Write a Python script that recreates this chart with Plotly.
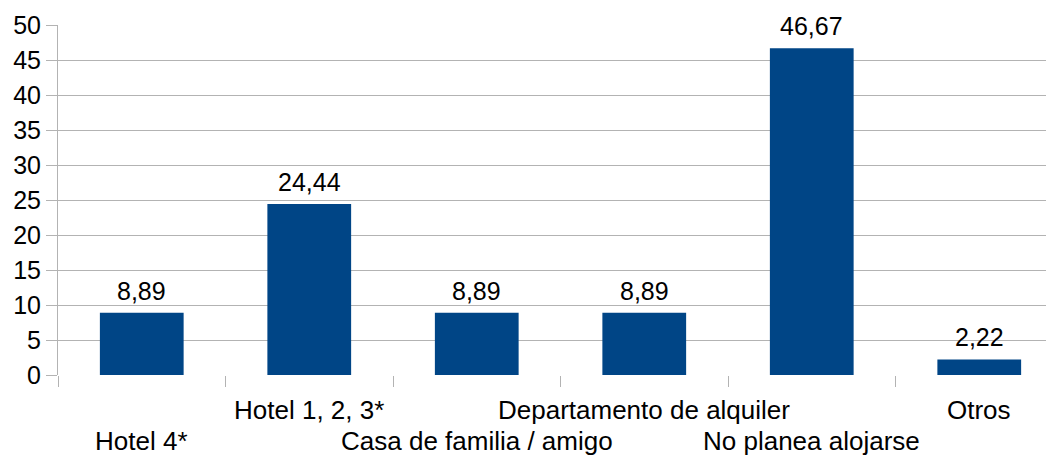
import plotly.graph_objects as go

categories = ["Hotel 4*", "Hotel 1, 2, 3*", "Casa de familia / amigo",
              "Departamento de alquiler", "No planea alojarse", "Otros"]
values = [8.89, 24.44, 8.89, 8.89, 46.67, 2.22]
value_labels = ["8,89", "24,44", "8,89", "8,89", "46,67", "2,22"]
y_ticks = [0, 5, 10, 15, 20, 25, 30, 35, 40, 45, 50]

FONT = "Liberation Sans, Arial, sans-serif"
GRID = "#b3b3b3"

fig = go.Figure()
fig.add_trace(go.Bar(x=list(range(len(categories))), y=values,
                     marker=dict(color="#004586", line=dict(width=0)),
                     width=0.5, hoverinfo="skip"))

annotations = []
for i, (v, lab) in enumerate(zip(values, value_labels)):
    annotations.append(dict(x=i, y=v, xref="x", yref="y", text=lab,
                            showarrow=False, yanchor="bottom", yshift=6,
                            font=dict(family=FONT, size=25, color="black")))
for i, c in enumerate(categories):
    annotations.append(dict(x=i, y=0, xref="x", yref="paper", text=c,
                            showarrow=False, yanchor="middle",
                            yshift=-66 if i % 2 == 0 else -35,
                            font=dict(family=FONT, size=26, color="black")))

fig.update_layout(
    width=1054, height=458,
    margin=dict(l=50, r=8, t=17, b=91, autoexpand=False),
    paper_bgcolor="white", plot_bgcolor="white",
    showlegend=False,
    font=dict(family=FONT, size=25, color="black"),
    annotations=annotations,
    xaxis=dict(type="linear", range=[-0.5, 5.5 - 9 / 167.5], automargin=False,
               tickvals=[i - 0.5 for i in range(len(categories))],
               showticklabels=False, ticks="outside", ticklen=11,
               tickcolor=GRID, tickwidth=1, showgrid=False,
               zeroline=False, showline=False),
    yaxis=dict(range=[0, 50], tickvals=y_ticks, ticktext=[str(t) for t in y_ticks],
               automargin=False,
               ticks="outside", ticklen=11, tickcolor=GRID, tickwidth=1,
               showgrid=True, gridcolor=GRID, gridwidth=1,
               zeroline=False, showline=True, linecolor=GRID, linewidth=1,
               ticklabelstandoff=0,
               tickfont=dict(family=FONT, size=25, color="black")),
)
fig.write_html("out.html")
